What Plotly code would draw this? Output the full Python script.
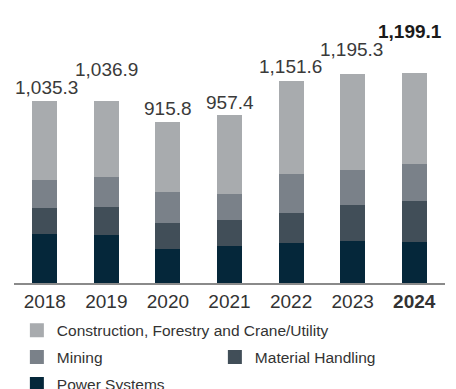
import plotly.graph_objects as go

years = ["2018", "2019", "2020", "2021", "2022", "2023", "2024"]
tick_labels = ["2018", "2019", "2020", "2021", "2022", "2023", "<b>2024</b>"]
totals = [1035.3, 1036.9, 915.8, 957.4, 1151.6, 1195.3, 1199.1]
total_labels = ["1,035.3", "1,036.9", "915.8", "957.4", "1,151.6", "1,195.3", "<b>1,199.1</b>"]

power_systems = [288, 282, 202, 219, 237, 248, 242]
material_handling = [149, 160, 149, 149, 172, 206, 235]
mining = [160, 172, 178, 149, 223, 201, 212]
construction = [round(t - p - m - n, 1) for t, p, m, n in
                zip(totals, power_systems, material_handling, mining)]

# label pixel offsets above bar tops (styling)
label_yshift = [15, 33, 14.5, 14, 16, 25, 42]
label_xshift = [2, 0, 0, 0, -1, -1, -4]

FONT = "Liberation Sans"
fig = go.Figure()
series = [
    ("Power Systems", power_systems, "#05273a", "legend3"),
    ("Material Handling", material_handling, "#414e58", "legend2"),
    ("Mining", mining, "#7a8189", "legend2"),
    ("Construction, Forestry and Crane/Utility", construction, "#a8abae", "legend"),
]
for name, vals, col, lg in series:
    fig.add_trace(go.Bar(x=years, y=vals, name=name, marker_color=col,
                         marker_line=dict(width=2, color=col), legend=lg,
                         hoverinfo="skip"))

for i, (tot, lab) in enumerate(zip(totals, total_labels)):
    # category axis: annotation x given as the category index
    fig.add_annotation(x=i, y=tot, text=lab, showarrow=False, yanchor="middle",
                       yshift=label_yshift[i], xshift=label_xshift[i],
                       font=dict(family=FONT, size=19,
                                 color="#1a1a1a" if i == 6 else "#3a3a3a"))

leg_common = dict(xref="container", yref="container", xanchor="left", yanchor="middle",
                  font=dict(family=FONT, size=15.5, color="#333333"),
                  bgcolor="rgba(0,0,0,0)", borderwidth=0, itemclick=False,
                  traceorder="reversed")
fig.update_layout(
    barmode="stack",
    bargap=0.627,
    width=456, height=389,
    showlegend=True,
    margin=dict(l=14, r=11, t=20, b=106, autoexpand=False),
    plot_bgcolor="white", paper_bgcolor="white",
    xaxis=dict(type="category", categoryorder="array", categoryarray=years,
               range=[-0.5, len(years) - 0.5], automargin=False,
               tickvals=years, ticktext=tick_labels, showline=True,
               linecolor="#8a8a8a", linewidth=1.5, ticks="", showgrid=False,
               tickfont=dict(family=FONT, size=19, color="#333333"), fixedrange=True),
    yaxis=dict(range=[0, 1508], visible=False, fixedrange=True, automargin=False),
    legend=dict(x=0.037, y=0.150, orientation="h", **leg_common),
    legend2=dict(x=0.037, y=0.081, orientation="h", entrywidth=153, **leg_common),
    legend3=dict(x=0.037, y=0.012, orientation="h", **leg_common),
)

fig.write_html("out.html")
